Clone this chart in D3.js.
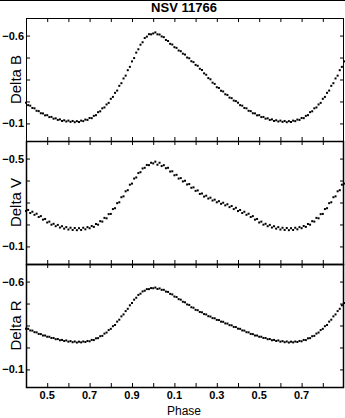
<!DOCTYPE html>
<html>
<head>
<meta charset="utf-8">
<title>NSV 11766</title>
<style>
  body { margin: 0; background: #fff; }
  svg text { font-family: Arial, "Liberation Sans", sans-serif; fill: #000; }
</style>
</head>
<body>
<script src="https://cdn.jsdelivr.net/npm/d3@7"></script>
<script>
// phase of each observation (one cycle), plotted twice over 0.4 .. 1.9
var phase = [0.00,0.01,0.02,0.03,0.04,0.05,0.06,0.07,0.08,0.09,
  0.10,0.11,0.12,0.13,0.14,0.15,0.16,0.17,0.18,0.19,
  0.20,0.21,0.22,0.23,0.24,0.25,0.26,0.27,0.28,0.29,
  0.30,0.31,0.32,0.33,0.34,0.35,0.36,0.37,0.38,0.39,
  0.40,0.41,0.42,0.43,0.44,0.45,0.46,0.47,0.48,0.49,
  0.50,0.51,0.52,0.53,0.54,0.55,0.56,0.57,0.58,0.59,
  0.60,0.61,0.62,0.63,0.64,0.65,0.66,0.67,0.68,0.69,
  0.70,0.71,0.72,0.73,0.74,0.75,0.76,0.77,0.78,0.79,
  0.80,0.81,0.82,0.83,0.84,0.85,0.86,0.87,0.88,0.89,
  0.90,0.91,0.92,0.93,0.94,0.95,0.96,0.97,0.98,0.99];

var deltaB = [-0.612,-0.618,-0.607,-0.606,-0.595,-0.591,-0.575,-0.569,-0.553,-0.549,
  -0.534,-0.530,-0.515,-0.511,-0.497,-0.492,-0.475,-0.471,-0.454,-0.449,
  -0.433,-0.428,-0.411,-0.404,-0.385,-0.377,-0.358,-0.351,-0.332,-0.325,
  -0.306,-0.302,-0.286,-0.282,-0.266,-0.262,-0.247,-0.244,-0.230,-0.227,
  -0.218,-0.204,-0.201,-0.188,-0.186,-0.172,-0.170,-0.158,-0.157,-0.146,
  -0.147,-0.136,-0.137,-0.127,-0.129,-0.120,-0.123,-0.114,-0.118,-0.111,
  -0.116,-0.109,-0.114,-0.107,-0.113,-0.108,-0.116,-0.113,-0.122,-0.120,
  -0.131,-0.130,-0.143,-0.147,-0.164,-0.169,-0.186,-0.191,-0.208,-0.217,
  -0.240,-0.251,-0.274,-0.287,-0.314,-0.329,-0.356,-0.372,-0.403,-0.422,
  -0.453,-0.472,-0.503,-0.522,-0.548,-0.562,-0.586,-0.594,-0.608,-0.607];

var deltaV = [-0.478,-0.486,-0.472,-0.481,-0.466,-0.470,-0.456,-0.458,-0.441,-0.442,
  -0.424,-0.426,-0.409,-0.411,-0.396,-0.399,-0.382,-0.384,-0.367,-0.369,
  -0.353,-0.355,-0.339,-0.341,-0.327,-0.331,-0.318,-0.322,-0.309,-0.313,
  -0.301,-0.306,-0.294,-0.299,-0.287,-0.292,-0.279,-0.284,-0.270,-0.276,
  -0.261,-0.266,-0.252,-0.258,-0.244,-0.249,-0.234,-0.238,-0.222,-0.225,
  -0.209,-0.213,-0.199,-0.203,-0.192,-0.198,-0.186,-0.192,-0.181,-0.188,
  -0.177,-0.185,-0.175,-0.184,-0.174,-0.183,-0.175,-0.185,-0.178,-0.188,
  -0.183,-0.193,-0.189,-0.202,-0.199,-0.215,-0.213,-0.230,-0.228,-0.247,
  -0.248,-0.270,-0.274,-0.297,-0.301,-0.324,-0.328,-0.351,-0.356,-0.381,
  -0.386,-0.409,-0.414,-0.434,-0.438,-0.455,-0.458,-0.471,-0.470,-0.481];

var deltaR = [-0.562,-0.566,-0.558,-0.561,-0.553,-0.553,-0.543,-0.541,-0.530,-0.527,
  -0.515,-0.512,-0.500,-0.497,-0.485,-0.482,-0.470,-0.467,-0.454,-0.451,
  -0.439,-0.437,-0.427,-0.425,-0.415,-0.413,-0.403,-0.401,-0.392,-0.391,
  -0.382,-0.381,-0.372,-0.371,-0.362,-0.361,-0.352,-0.351,-0.342,-0.341,
  -0.332,-0.331,-0.322,-0.321,-0.312,-0.311,-0.302,-0.301,-0.293,-0.293,
  -0.286,-0.286,-0.279,-0.279,-0.272,-0.273,-0.266,-0.268,-0.262,-0.265,
  -0.258,-0.261,-0.255,-0.259,-0.253,-0.258,-0.254,-0.259,-0.256,-0.262,
  -0.260,-0.268,-0.267,-0.277,-0.278,-0.289,-0.291,-0.304,-0.310,-0.324,
  -0.331,-0.346,-0.353,-0.372,-0.383,-0.402,-0.413,-0.432,-0.445,-0.465,
  -0.478,-0.497,-0.508,-0.524,-0.531,-0.544,-0.548,-0.557,-0.557,-0.563];

// x axis ticks (phase runs past 1 and wraps), label shown as phase mod 1
var phaseTicks = [0.5,0.6,0.7,0.8,0.9,1.0,1.1,1.2,1.3,1.4,1.5,1.6,1.7,1.8];
var phaseLabels = [0.5,0.7,0.9,1.1,1.3,1.5,1.7];

var panelNames = ["Delta B", "Delta V", "Delta R"];
var panelData = [deltaB, deltaV, deltaR];
var panelDomains = [[-0.7, 0.0], [-0.58, -0.02], [-0.7, 0.0]];
var panelTicks = [[-0.6,-0.475,-0.35,-0.225,-0.1], [-0.5,-0.4,-0.3,-0.2,-0.1], [-0.6,-0.475,-0.35,-0.225,-0.1]];
var panelLabels = [[-0.6,-0.1], [-0.5,-0.1], [-0.6,-0.1]];

var width = 345, height = 418;
var plotLeft = 26, plotRight = 344, plotTop = 18, panelH = 123;

var svg = d3.select("body").append("svg")
    .attr("width", width)
    .attr("height", height);

// line along the top edge
svg.append("line")
    .attr("x1", 0).attr("x2", width)
    .attr("y1", 0.5).attr("y2", 0.5)
    .attr("stroke", "#000");

svg.append("text")
    .attr("x", 184)
    .attr("y", 12)
    .attr("text-anchor", "middle")
    .style("font-size", "13px")
    .style("font-weight", "bold")
    .text("NSV 11766");

var x = d3.scaleLinear().domain([0.4, 1.9]).range([plotLeft, plotRight]);
var fmt = d3.format(".1f");

panelNames.forEach(function (name, i) {
  var y0 = plotTop + i * panelH, y1 = y0 + panelH;
  var y = d3.scaleLinear().domain(panelDomains[i]).range([y0, y1]);
  var g = svg.append("g").attr("class", "panel");

  // points: each phase drawn at p and p+1 where it falls in the window
  var pts = [];
  phase.forEach(function (p, k) {
    [p, p + 1].forEach(function (q) {
      if (q >= 0.4 && q <= 1.9) pts.push({ph: q, mag: panelData[i][k]});
    });
  });
  g.selectAll("rect.pt").data(pts).enter().append("rect")
      .attr("class", "pt")
      .attr("x", function (d) { return x(d.ph) - 1; })
      .attr("y", function (d) { return y(d.mag) - 1; })
      .attr("width", 2).attr("height", 2)
      .attr("fill", "#000");

  // x ticks top and bottom, pointing inward
  g.append("g").attr("transform", "translate(0," + y0 + ")")
      .call(d3.axisBottom(x).tickValues(phaseTicks).tickSize(4).tickFormat(""))
      .call(function (a) { a.select(".domain").remove(); });
  g.append("g").attr("transform", "translate(0," + y1 + ")")
      .call(d3.axisTop(x).tickValues(phaseTicks).tickSize(4).tickFormat(""))
      .call(function (a) { a.select(".domain").remove(); });

  // y ticks left and right, pointing inward
  g.append("g").attr("transform", "translate(" + plotLeft + ",0)")
      .call(d3.axisRight(y).tickValues(panelTicks[i]).tickSize(4).tickFormat(""))
      .call(function (a) { a.select(".domain").remove(); });
  g.append("g").attr("transform", "translate(" + plotRight + ",0)")
      .call(d3.axisLeft(y).tickValues(panelTicks[i]).tickSize(4).tickFormat(""))
      .call(function (a) { a.select(".domain").remove(); });

  g.selectAll("text.ylab").data(panelLabels[i]).enter().append("text")
      .attr("class", "ylab")
      .attr("x", plotLeft - 2)
      .attr("y", function (d) { return y(d) + 4; })
      .attr("text-anchor", "end")
      .style("font-size", "11px")
      .style("font-weight", "bold")
      .text(function (d) { return fmt(d); });

  g.append("rect")
      .attr("x", plotLeft + 0.5).attr("y", y0 + 0.5)
      .attr("width", plotRight - plotLeft - 1).attr("height", panelH)
      .attr("fill", "none").attr("stroke", "#000").attr("stroke-width", i === 0 ? 1 : 1.5);

  g.append("text")
      .attr("transform", "translate(21," + (y0 + panelH / 2) + ") rotate(-90)")
      .attr("text-anchor", "middle")
      .style("font-size", "15px")
      .text(name);
});

svg.selectAll(".tick line").attr("stroke", "#000");

var yb = plotTop + 3 * panelH;
svg.selectAll("text.xlab").data(phaseLabels).enter().append("text")
    .attr("class", "xlab")
    .attr("x", function (d) { return x(d); })
    .attr("y", yb + 12)
    .attr("text-anchor", "middle")
    .style("font-size", "11px")
    .style("font-weight", "bold")
    .text(function (d) { return fmt(d % 1); });

svg.append("text")
    .attr("x", 184)
    .attr("y", 415)
    .attr("text-anchor", "middle")
    .style("font-size", "12px")
    .text("Phase");
</script>
</body>
</html>
